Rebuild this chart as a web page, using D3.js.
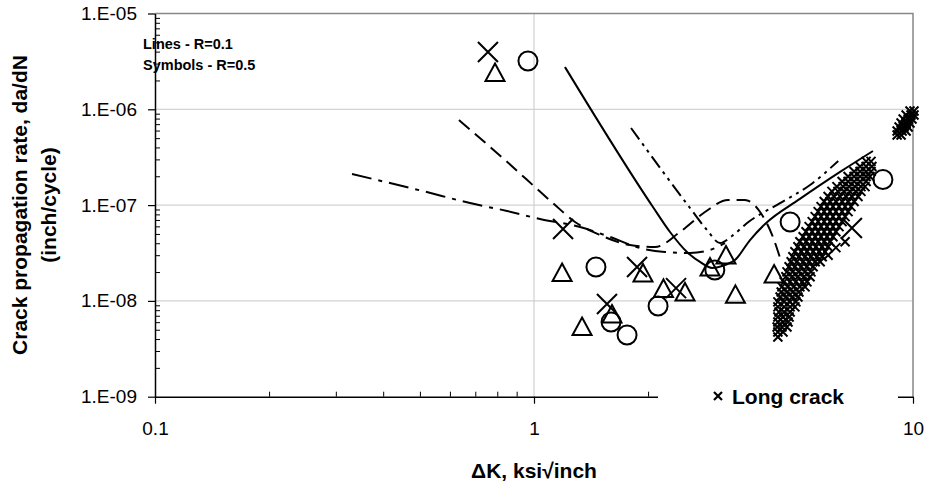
<!DOCTYPE html>
<html>
<head>
<meta charset="utf-8">
<script src="https://cdn.jsdelivr.net/npm/d3@7"></script>
<style>
  html, body { margin: 0; padding: 0; background: #fff; }
  svg { display: block; font-family: "Liberation Sans", Arial, sans-serif; }
</style>
</head>
<body>
<svg id="chart" width="926" height="481"></svg>
<script>
// Fatigue crack growth: da/dN vs ΔK (log-log)

// Axis ticks
const xMajorTicks = [0.1, 1, 10];
const xTickLabels = ["0.1", "1", "10"];
const yMajorTicks = [1e-9, 1e-8, 1e-7, 1e-6, 1e-5];
const yTickLabels = ["1.E-09", "1.E-08", "1.E-07", "1.E-06", "1.E-05"];

// R = 0.1 curves: [ΔK, da/dN]
const lineSolid = [
  [1.207, 2.76e-6], [2.06, 9.55e-8], [2.285, 5.24e-8], [2.533, 3.24e-8],
  [2.742, 2.55e-8], [2.95, 2.21e-8], [3.19, 2.37e-8], [3.39, 2.67e-8],
  [3.715, 4.32e-8], [4.07, 6.35e-8], [5.03, 1.16e-7], [6.42, 2.22e-7],
  [7.84, 3.67e-7]
];
const lineDashed = [
  [0.634, 7.73e-7], [0.838, 2.96e-7], [1.122, 1.05e-7], [1.283, 6.66e-8],
  [1.494, 4.87e-8], [1.792, 3.83e-8], [2.086, 3.65e-8], [2.428, 5.24e-8],
  [2.826, 8.47e-8], [3.25, 1.13e-7], [3.60, 1.13e-7], [3.95, 8.47e-8],
  [4.25, 4.87e-8], [4.46, 2.80e-8]
];
const lineDashDot = [
  [0.331, 2.11e-7], [0.5095, 1.40e-7], [0.678, 1.05e-7], [0.849, 8.68e-8],
  [1.037, 7.16e-8], [1.323, 5.91e-8], [1.587, 4.65e-8], [1.904, 3.56e-8],
  [2.216, 3.24e-8], [2.58, 3.16e-8], [2.913, 3.40e-8], [3.19, 4.02e-8]
];
const lineDashDotDot = [
  [1.803, 6.38e-7], [2.58, 9.33e-8], [2.86, 5.50e-8], [3.096, 4.02e-8],
  [3.33, 4.76e-8], [3.65, 6.50e-8], [4.46, 1.05e-7], [5.35, 1.62e-7],
  [6.35, 2.89e-7]
];

// R = 0.5 short-crack specimens
const crossPoints = [
  [0.756, 3.96e-6], [1.193, 5.63e-8], [1.558, 9.28e-9], [1.870, 2.26e-8],
  [2.370, 1.36e-8], [6.90, 5.77e-8]
];
const trianglePoints = [
  [0.789, 2.42e-6], [1.186, 1.98e-8], [1.339, 5.40e-9], [1.606, 7.30e-9],
  [1.939, 1.96e-8], [2.196, 1.35e-8], [2.503, 1.24e-8], [2.913, 2.26e-8],
  [3.21, 3.01e-8], [3.40, 1.17e-8], [4.30, 1.91e-8]
];
const circlePoints = [
  [0.964, 3.19e-6], [1.457, 2.26e-8], [1.597, 6.02e-9], [1.760, 4.41e-9],
  [2.125, 8.85e-9], [3.00, 2.10e-8], [4.74, 6.66e-8], [8.33, 1.85e-7]
];

// Long crack data, grouped by da/dN level: [da/dN, [ΔK, ...]]
const longCrackRows = [
  [4.20e-9, [4.40]],
  [4.74e-9, [4.40, 4.54]],
  [5.35e-9, [4.38, 4.51, 4.65]],
  [6.03e-9, [4.40, 4.54, 4.68]],
  [6.80e-9, [4.40, 4.54, 4.71]],
  [7.67e-9, [4.43, 4.57, 4.74]],
  [8.66e-9, [4.40, 4.57, 4.74, 4.88]],
  [9.77e-9, [4.40, 4.57, 4.74, 4.91]],
  [1.10e-8, [4.46, 4.62, 4.80, 4.97]],
  [1.24e-8, [4.49, 4.65, 4.82, 5.00]],
  [1.40e-8, [4.51, 4.68, 4.85, 5.03, 5.19]],
  [1.58e-8, [4.57, 4.74, 4.91, 5.10, 5.25]],
  [1.79e-8, [4.62, 4.80, 4.97, 5.16, 5.35]],
  [2.01e-8, [4.65, 4.82, 5.00, 5.19, 5.38]],
  [2.27e-8, [4.71, 4.88, 5.07, 5.25, 5.45]],
  [2.56e-8, [4.77, 4.94, 5.13, 5.32, 5.52, 5.69]],
  [2.89e-8, [4.82, 5.00, 5.19, 5.38, 5.58, 5.76]],
  [3.26e-8, [4.88, 5.07, 5.25, 5.45, 5.65, 5.86]],
  [3.68e-8, [4.97, 5.16, 5.35, 5.55, 5.76, 5.97]],
  [4.15e-8, [5.03, 5.22, 5.42, 5.62, 5.83, 6.04]],
  [4.68e-8, [5.13, 5.32, 5.52, 5.72, 5.93, 6.15]],
  [5.28e-8, [5.22, 5.42, 5.62, 5.83, 6.04, 6.26]],
  [5.96e-8, [5.32, 5.52, 5.72, 5.93, 6.15, 6.38]],
  [6.72e-8, [5.42, 5.62, 5.83, 6.04, 6.26, 6.50]],
  [7.58e-8, [5.52, 5.72, 5.93, 6.15, 6.38, 6.62]],
  [8.55e-8, [5.62, 5.83, 6.04, 6.26, 6.50, 6.74]],
  [9.65e-8, [5.72, 5.93, 6.15, 6.38, 6.62, 6.86]],
  [1.09e-7, [5.83, 6.04, 6.26, 6.50, 6.74, 6.99]],
  [1.23e-7, [5.97, 6.19, 6.42, 6.66, 6.90, 7.16]],
  [1.39e-7, [6.11, 6.34, 6.58, 6.82, 7.07, 7.29]],
  [1.56e-7, [6.30, 6.54, 6.78, 7.03, 7.29, 7.47]],
  [1.76e-7, [6.50, 6.74, 6.99, 7.25, 7.52]],
  [1.99e-7, [6.74, 6.99, 7.25, 7.52, 7.70]],
  [2.24e-7, [6.99, 7.25, 7.52, 7.75]],
  [2.53e-7, [7.25, 7.52, 7.79]],
  [2.86e-7, [7.52, 7.75]],
  [3.00e-8, [5.97]],
  [3.60e-8, [6.26]],
  [4.15e-8, [6.62]],
  [5.39e-7, [9.08, 9.30]],
  [5.94e-7, [9.08, 9.36, 9.59]],
  [6.53e-7, [9.19, 9.47, 9.71]],
  [7.19e-7, [9.30, 9.59, 9.82]],
  [7.92e-7, [9.42, 9.71, 9.94]],
  [8.72e-7, [9.59, 9.88, 10.06]],
  [9.60e-7, [9.82, 10.06]]
];

const longCrack = longCrackRows.flatMap(([rate, dks]) => dks.map(dk => [dk, rate]));

const svg = d3.select("#chart");
const plotLeft = 155, plotRight = 913, plotTop = 13.5, plotBottom = 396.7;

const x = d3.scaleLog().domain([0.1, 10]).range([plotLeft, plotRight]);
const y = d3.scaleLog().domain([1e-9, 1e-5]).range([plotBottom, plotTop]);

const xMinor = [], yMinor = [];
for (let d = 0.1; d < 10; d *= 10) for (let k = 2; k <= 9; k++) xMinor.push(+(d * k).toPrecision(3));
for (let d = 1e-9; d < 1e-5; d *= 10) for (let k = 2; k <= 9; k++) yMinor.push(+(d * k).toPrecision(3));

// Gridlines
const grid = svg.append("g").attr("stroke", "#c8c8c8").attr("stroke-width", 1);
[1e-8, 1e-7, 1e-6].forEach(v => grid.append("line")
  .attr("x1", plotLeft).attr("x2", plotRight).attr("y1", y(v)).attr("y2", y(v)));
grid.append("line").attr("x1", x(1)).attr("x2", x(1)).attr("y1", plotTop).attr("y2", plotBottom);

// Plot frame (top / right)
svg.append("path")
  .attr("d", `M${plotLeft},${plotTop}H${plotRight}V${plotBottom}`)
  .attr("fill", "none").attr("stroke", "#888").attr("stroke-width", 1.5);

// Curves
const lineGen = d3.line().x(d => x(d[0])).y(d => y(d[1])).curve(d3.curveMonotoneX);
const curves = [
  { data: lineSolid, dash: null },
  { data: lineDashed, dash: "14,7" },
  { data: lineDashDot, dash: "20,7,4,7" },
  { data: lineDashDotDot, dash: "14,5,3,5,3,5" }
];
svg.append("clipPath").attr("id", "plotclip")
  .append("rect").attr("x", plotLeft).attr("y", plotTop)
  .attr("width", plotRight - plotLeft + 8).attr("height", plotBottom - plotTop);
const plot = svg.append("g").attr("clip-path", "url(#plotclip)");
curves.forEach(c => plot.append("path")
  .attr("d", lineGen(c.data))
  .attr("fill", "none").attr("stroke", "#000").attr("stroke-width", 2)
  .attr("stroke-dasharray", c.dash));

// Long-crack markers
const smallX = 4.5;
plot.append("g").selectAll("path").data(longCrack).join("path")
  .attr("d", d => {
    const cx = x(d[0]), cy = y(d[1]);
    return `M${cx - smallX},${cy - smallX}L${cx + smallX},${cy + smallX}M${cx - smallX},${cy + smallX}L${cx + smallX},${cy - smallX}`;
  })
  .attr("stroke", "#000").attr("stroke-width", 2).attr("fill", "none");

// Short-crack markers
const bigX = 10;
plot.append("g").selectAll("path").data(crossPoints).join("path")
  .attr("d", d => {
    const cx = x(d[0]), cy = y(d[1]);
    return `M${cx - bigX},${cy - bigX}L${cx + bigX},${cy + bigX}M${cx - bigX},${cy + bigX}L${cx + bigX},${cy - bigX}`;
  })
  .attr("stroke", "#000").attr("stroke-width", 2).attr("fill", "none");

plot.append("g").selectAll("path").data(trianglePoints).join("path")
  .attr("d", d => {
    const cx = x(d[0]), cy = y(d[1]);
    return `M${cx},${cy - 9}L${cx + 9.5},${cy + 8.5}L${cx - 9.5},${cy + 8.5}Z`;
  })
  .attr("stroke", "#000").attr("stroke-width", 2).attr("fill", "none");

plot.append("g").selectAll("circle").data(circlePoints).join("circle")
  .attr("cx", d => x(d[0])).attr("cy", d => y(d[1])).attr("r", 9.5)
  .attr("stroke", "#000").attr("stroke-width", 2).attr("fill", "none");

// Axes
const axisStyle = g => {
  g.select(".domain").attr("stroke", "#000").attr("stroke-width", 1.5);
  g.selectAll(".tick line").attr("stroke", "#000").attr("stroke-width", 1.2);
  g.selectAll("text").attr("font-size", 19).attr("fill", "#000")
    .attr("font-family", "'Liberation Sans', Arial, sans-serif");
};

svg.append("g").attr("transform", `translate(${plotLeft},0)`)
  .call(d3.axisRight(y).tickValues(yMinor).tickSize(5).tickFormat("").tickSizeOuter(0))
  .call(g => g.select(".domain").remove())
  .call(g => g.selectAll(".tick line").attr("stroke", "#000"));
svg.append("g").attr("transform", `translate(0,${plotBottom})`)
  .call(d3.axisTop(x).tickValues(xMinor).tickSize(5).tickFormat("").tickSizeOuter(0))
  .call(g => g.select(".domain").remove())
  .call(g => g.selectAll(".tick line").attr("stroke", "#000"));

svg.append("g").attr("transform", `translate(${plotLeft},0)`)
  .call(d3.axisLeft(y).tickValues(yMajorTicks).tickSize(7).tickPadding(11).tickSizeOuter(0)
    .tickFormat((d, i) => yTickLabels[i]))
  .call(axisStyle);
svg.append("g").attr("transform", `translate(0,${plotBottom})`)
  .call(d3.axisBottom(x).tickValues(xMajorTicks).tickSize(7).tickPadding(18).tickSizeOuter(0)
    .tickFormat((d, i) => xTickLabels[i]))
  .call(axisStyle);

// Long-crack legend (sits over the x axis)
const leg = svg.append("g");
leg.append("rect").attr("x", 658).attr("y", 384).attr("width", 240).attr("height", 25).attr("fill", "#fff");
leg.append("path")
  .attr("d", `M714,392L722,400M714,400L722,392`)
  .attr("stroke", "#000").attr("stroke-width", 2.2);
leg.append("text").attr("x", 732).attr("y", 403.5)
  .attr("font-size", 21).attr("font-weight", "bold").text("Long crack");

// Notes
svg.append("text").attr("x", 143).attr("y", 49).attr("font-size", 14.5).attr("font-weight", "bold")
  .text("Lines - R=0.1");
svg.append("text").attr("x", 143).attr("y", 69.5).attr("font-size", 14.5).attr("font-weight", "bold")
  .text("Symbols - R=0.5");

// Axis titles
const yTitle = svg.append("text").attr("transform", "rotate(-90)")
  .attr("text-anchor", "middle").attr("font-size", 21).attr("font-weight", "bold");
yTitle.append("tspan").attr("x", -205).attr("y", 27).text("Crack propagation rate,  da/dN");
yTitle.append("tspan").attr("x", -205).attr("y", 56).text("(inch/cycle)");

svg.append("text").attr("x", 534).attr("y", 478).attr("text-anchor", "middle")
  .attr("font-size", 21).attr("font-weight", "bold").text("ΔK, ksi√inch");
</script>
</body>
</html>
